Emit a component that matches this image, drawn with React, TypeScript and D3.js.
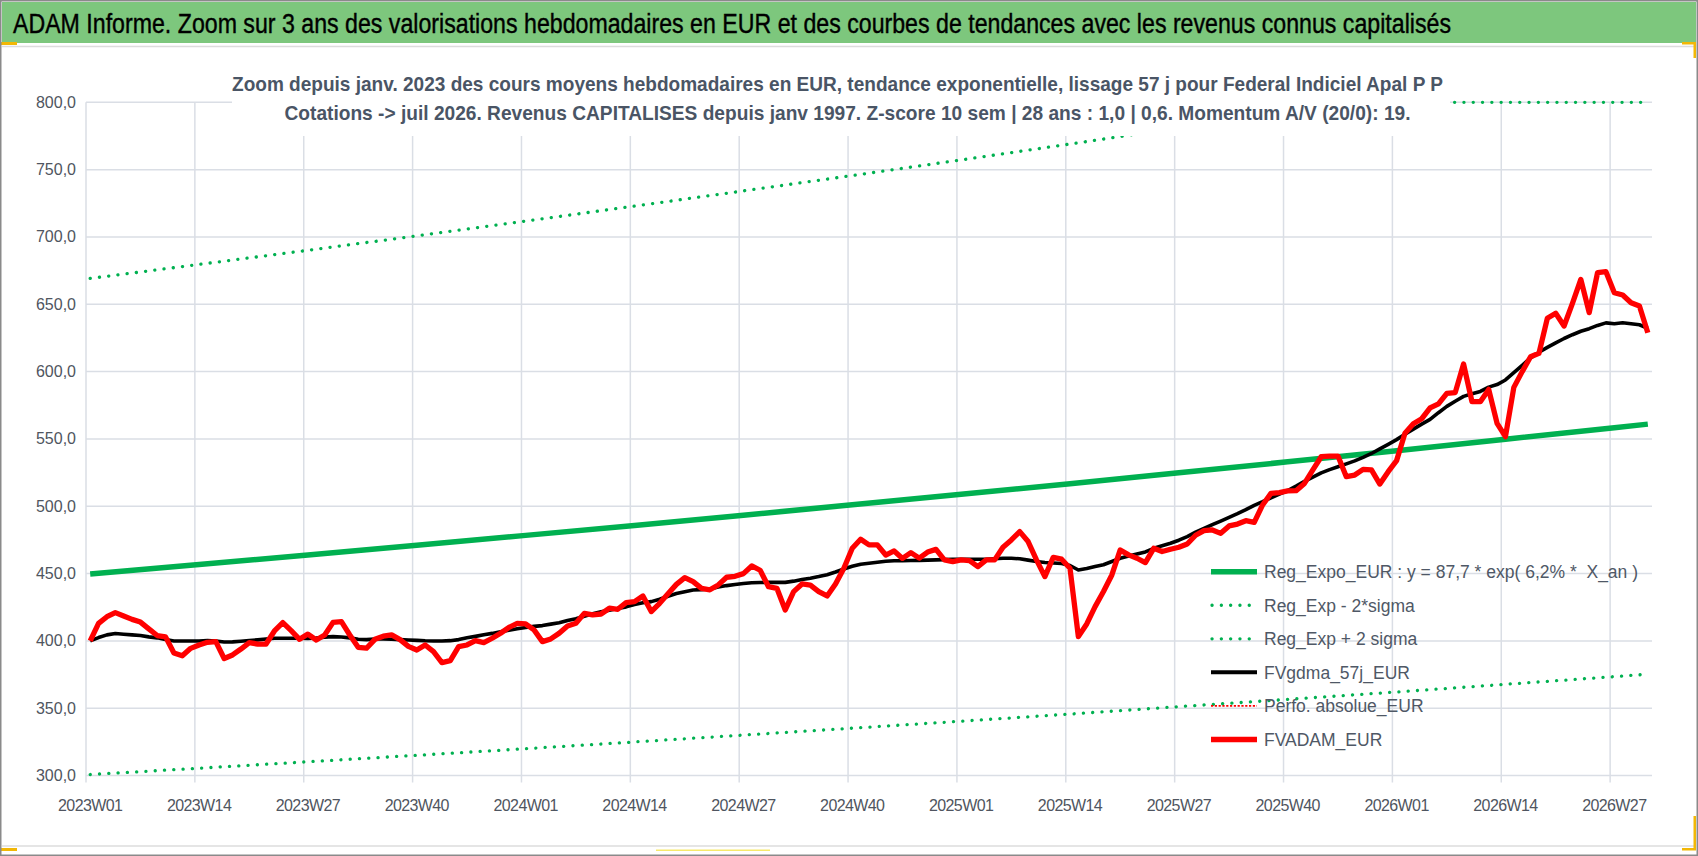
import { useEffect, useRef } from 'react';
import * as d3 from 'd3';

const WIDTH = 1698;
const HEIGHT = 856;

// weekly categories 2023W01 .. 2026W31 (2023-2025 have 52 ISO weeks)
const LAST_YEAR = 2026;
const LAST_WEEK = 31;
const WEEKS: string[] = [];
for (let yr = 2023; yr <= LAST_YEAR; yr++) {
  const n = yr === LAST_YEAR ? LAST_WEEK : 52;
  for (let w = 1; w <= n; w++) WEEKS.push(`${yr}W${String(w).padStart(2, '0')}`);
}

const Y_TICKS = [300, 350, 400, 450, 500, 550, 600, 650, 700, 750, 800];

// FVADAM_EUR, weekly (red)
const FVADAM = [
  400, 413, 418, 421, 418.5, 416, 414, 409, 404, 403, 391, 389, 394.5, 397, 399, 399.5, 387, 389.6, 394, 398.7,
  397.7, 397.7, 407.4, 413.6, 407.6, 401.2, 405.1, 400.7, 404.4, 413.8, 414.3, 404.4, 395.3, 394.6, 401.2, 403.5, 404.5, 401, 396, 393.3,
  397, 392.1, 383.9, 385.4, 395.8, 397, 400.2, 398.8, 402, 405.7, 410, 413.1, 412.6, 408.2, 399.5, 401.5, 405.7, 411.1, 413.1, 420.5,
  419.3, 420, 424.3, 423.5, 428.5, 429.2, 433.4, 421.8, 427.9, 435, 442, 447, 444, 439, 438, 441.6, 447.3, 448, 450, 455.7,
  452.5, 440.3, 439.1, 423, 436.6, 442.3, 441.5, 436.6, 433.4, 442.3, 454, 468.8, 475.5, 471.3, 471.3, 463.8, 466.8, 461.3, 465.6, 461.5,
  466, 468, 460.2, 458.9, 460.2, 459.7, 455.2, 460.2, 460.2, 469.6, 475, 481.2, 473.8, 460.2, 447.8, 462.1, 460.7, 454, 403.2, 412.6,
  425.5, 436.7, 449, 467.6, 463.9, 461.4, 458.2, 468.8, 466.4, 468.1, 469.6, 472, 478.5, 481.9, 482.4, 479.9, 485.4, 486.8, 489.3, 488.1,
  501, 509.6, 510.1, 511.4, 511.6, 517, 527, 536.8, 537.3, 537.3, 522, 523.2, 527.4, 527, 516.5, 525.7, 533.9, 554.2, 561.3, 565,
  573, 576, 583.9, 584.4, 605.6, 577.7, 577.7, 586.8, 561.6, 551.7, 588.3, 600, 611.1, 613.6, 639.6, 643.3, 633.9, 650.7, 668.5, 643.8,
  673.5, 674.2, 658.6, 656.9, 651.2, 648.7, 628.9,
];

// FVgdma_57j_EUR, weekly (black)
const FVGDMA = [
  400, 402.5, 404.5, 405.5, 405, 404.5, 404, 403, 402.3, 401, 400, 400, 400, 400, 400.2, 400, 399.2, 399.3, 399.8, 400.3,
  400.8, 401.4, 402, 402, 402, 402, 401.8, 402.2, 402.8, 403.2, 402.9, 402.3, 401.2, 401, 401.5, 401.4, 401.2, 401, 400.7, 400.4,
  400.1, 400, 400, 400.2, 401, 402.3, 403.4, 404.6, 405.6, 406.9, 408, 409.1, 410, 410.8, 411.4, 412.5, 413.5, 415.2, 416.5, 418.4,
  420.2, 421.7, 422.8, 424.1, 425.3, 427, 428.3, 429.2, 431, 433.2, 435.2, 436.6, 437.8, 438.1, 438.6, 440, 441.1, 441.9, 442.6, 443.2,
  443.4, 443.5, 443.5, 443.5, 444.4, 445.6, 446.6, 447.8, 449.2, 451.2, 453.4, 455.4, 457, 457.7, 458.5, 459.2, 459.6, 459.6, 459.7, 459.8,
  460, 460.2, 460.4, 460.7, 460.7, 460.7, 460.7, 460.7, 461, 461.4, 461.4, 461, 460, 459, 458.2, 457.9, 457.5, 456, 452.7, 453.8,
  455.3, 456.6, 459, 461.4, 463, 464.6, 466.1, 468.8, 470.7, 472.5, 474.8, 477.5, 480.8, 483.5, 486.3, 489, 491.8, 494.5, 497.5, 500.7,
  503.4, 506.3, 509, 511.7, 515, 518.5, 521.6, 524.8, 527.2, 529.3, 531.5, 533.7, 536.3, 539.2, 542.6, 546, 549.5, 553.5, 557.3, 561,
  564.5, 569.5, 574.2, 578, 581.6, 583.5, 585.3, 588.5, 590.4, 593.8, 599.2, 604.7, 610.2, 614.4, 618, 621.4, 624.6, 627.4, 630, 631.9,
  634.3, 636.2, 635.5, 636.3, 635.6, 634.8, 632.1,
];

// trend curves, read at the labelled weeks and at the last week
const TREND_WEEKS = [
  '2023W01', '2023W14', '2023W27', '2023W40', '2024W01', '2024W14', '2024W27', '2024W40',
  '2025W01', '2025W14', '2025W27', '2025W40', '2026W01', '2026W14', '2026W27', '2026W31',
];
const REG_EXPO = [449.7, 456.7, 463.8, 471.0, 478.4, 485.8, 493.4, 501.1, 508.9, 516.8, 524.9, 533.0, 541.3, 549.8, 558.3, 561.0];
const REG_LOW = [300.8, 305.5, 310.3, 315.1, 320.0, 325.0, 330.1, 335.2, 340.4, 345.7, 351.2, 356.6, 362.1, 367.8, 373.5, 375.3];
const REG_HIGH = [669.2, 679.6, 690.1, 700.8, 711.8, 722.9, 734.2, 745.6, 757.2, 769.0, 781.1, 793.1, 805.4, 818.1, 830.8, 834.8];

const LEGEND = [
  { label: 'Reg_Expo_EUR : y = 87,7 * exp( 6,2% *  X_an )', color: '#00b050', width: 5.5, dash: '' },
  { label: 'Reg_Exp - 2*sigma', color: '#00b050', width: 3.3, dash: 'dot' },
  { label: 'Reg_Exp + 2 sigma', color: '#00b050', width: 3.3, dash: 'dot' },
  { label: 'FVgdma_57j_EUR', color: '#000000', width: 4, dash: '' },
  { label: 'Perfo. absolue_EUR', color: '#ff0000', width: 1.8, dash: 'small' },
  { label: 'FVADAM_EUR', color: '#ff0000', width: 5.5, dash: '' },
];

const TITLE = 'ADAM Informe. Zoom sur 3 ans des valorisations hebdomadaires en EUR et des courbes de tendances avec les revenus connus capitalisés';
const SUB1 = 'Zoom depuis janv. 2023 des cours moyens hebdomadaires en EUR, tendance exponentielle, lissage 57 j pour Federal Indiciel Apal P P';
const SUB2 = 'Cotations -> juil 2026. Revenus CAPITALISES depuis janv 1997. Z-score 10 sem | 28 ans : 1,0 | 0,6. Momentum A/V (20/0): 19.';

const NARROW = "'Liberation Sans Narrow', 'Liberation Sans', Arial, sans-serif";
const SANS = "'Liberation Sans', Arial, sans-serif";

export default function App() {
  const svgRef = useRef<SVGSVGElement>(null);

  useEffect(() => {
    if (!svgRef.current) return;
    document.body.style.margin = '0';

    const svg = d3.select(svgRef.current);
    svg.selectAll('*').remove();

    const left = 86;
    const right = 1652;
    const top = 102.3;
    const bottom = 775.6;

    const x = d3.scaleBand<string>().domain(WEEKS).range([left, right]).padding(0);
    const cx = (w: string) => (x(w) ?? 0) + x.bandwidth() / 2;
    const y = d3.scaleLinear().domain([300, 800]).range([bottom, top]);
    const fmt = d3.formatLocale({ decimal: ',', thousands: ' ', grouping: [3], currency: ['', '€'] }).format('.1f');

    svg.append('rect').attr('width', WIDTH).attr('height', HEIGHT).attr('fill', '#ffffff');

    // Grid
    const grid = svg.append('g').attr('stroke', '#dadee5').attr('stroke-width', 1.5);
    Y_TICKS.forEach(v => {
      grid.append('line').attr('x1', left).attr('x2', right).attr('y1', y(v)).attr('y2', y(v));
    });
    WEEKS.forEach((w, i) => {
      if (i % 13 !== 0) return;
      grid.append('line').attr('x1', x(w)!).attr('x2', x(w)!).attr('y1', top).attr('y2', bottom + 7);
    });

    // Axis labels
    svg.append('g')
      .selectAll('text')
      .data(Y_TICKS)
      .join('text')
      .attr('x', 76)
      .attr('y', d => y(d) + 5.5)
      .attr('text-anchor', 'end')
      .attr('font-family', SANS)
      .attr('font-size', 16)
      .attr('fill', '#4f5560')
      .text(d => fmt(d));

    svg.append('g')
      .selectAll('text')
      .data(WEEKS.filter((_, i) => i % 13 === 0))
      .join('text')
      .attr('x', d => cx(d))
      .attr('y', 811)
      .attr('text-anchor', 'middle')
      .attr('font-family', SANS)
      .attr('font-size', 16)
      .attr('letter-spacing', -0.6)
      .attr('fill', '#4f5560')
      .text(d => d);

    // Series
    const weekly = d3.line<number>().x((_, i) => cx(WEEKS[i])).y(d => y(d));
    const trend = d3.line<number>().x((_, i) => cx(TREND_WEEKS[i])).y(d => y(Math.min(d, 800)));

    svg.append('path').datum(REG_EXPO).attr('d', trend)
      .attr('fill', 'none').attr('stroke', '#00b050').attr('stroke-width', 5.5).attr('stroke-linejoin', 'round');
    [REG_LOW, REG_HIGH].forEach(s => {
      svg.append('path').datum(s).attr('d', trend)
        .attr('fill', 'none').attr('stroke', '#00b050').attr('stroke-width', 3.3)
        .attr('stroke-linecap', 'round').attr('stroke-dasharray', '0.1 9.2');
    });
    svg.append('path').datum(FVGDMA).attr('d', weekly)
      .attr('fill', 'none').attr('stroke', '#000000').attr('stroke-width', 3.6).attr('stroke-linejoin', 'round');
    svg.append('path').datum(FVADAM).attr('d', weekly)
      .attr('fill', 'none').attr('stroke', '#ff0000').attr('stroke-width', 5.3).attr('stroke-linejoin', 'round');

    // Legend (transparent, over the plot)
    const lg = svg.append('g');
    LEGEND.forEach((d, i) => {
      const ly = 571.7 + i * 33.55;
      const ln = lg.append('line')
        .attr('x1', 1211).attr('x2', 1257).attr('y1', ly).attr('y2', ly)
        .attr('stroke', d.color).attr('stroke-width', d.width);
      if (d.dash === 'dot') ln.attr('stroke-linecap', 'round').attr('stroke-dasharray', '0.1 9.2').attr('x1', 1212);
      if (d.dash === 'small') ln.attr('stroke-dasharray', '2.2 1.6');
      lg.append('text')
        .attr('x', 1264)
        .attr('y', ly + 6.3)
        .attr('font-family', SANS)
        .attr('font-size', 17.5)
        .attr('fill', '#4f5866')
        .style('white-space', 'pre')
        .text(d.label);
    });

    // Chart title (its box hides the grid under it)
    svg.append('rect').attr('x', 232).attr('y', 62).attr('width', 1218).attr('height', 74).attr('fill', '#ffffff');
    svg.append('text')
      .attr('x', 232).attr('y', 91)
      .attr('font-family', NARROW).attr('font-size', 21).attr('font-weight', 700)
      .attr('fill', '#4a5565')
      .attr('textLength', 1211).attr('lengthAdjust', 'spacingAndGlyphs')
      .text(SUB1);
    svg.append('text')
      .attr('x', 284.5).attr('y', 120)
      .attr('font-family', NARROW).attr('font-size', 21).attr('font-weight', 700)
      .attr('fill', '#4a5565')
      .attr('textLength', 1126).attr('lengthAdjust', 'spacingAndGlyphs')
      .text(SUB2);

    // Banner
    svg.append('rect').attr('x', 2).attr('y', 2).attr('width', WIDTH - 4).attr('height', 41).attr('fill', '#7dc77d');
    svg.append('text')
      .attr('x', 13).attr('y', 33)
      .attr('font-family', NARROW).attr('font-size', 27)
      .attr('fill', '#000000').attr('stroke', '#000000').attr('stroke-width', 0.4)
      .attr('textLength', 1438).attr('lengthAdjust', 'spacingAndGlyphs')
      .text(TITLE);
    svg.append('line').attr('x1', 2).attr('x2', WIDTH - 3).attr('y1', 46.5).attr('y2', 46.5)
      .attr('stroke', '#dcdcdc').attr('stroke-width', 1.5);
    svg.append('line').attr('x1', 2).attr('x2', WIDTH - 3).attr('y1', 846).attr('y2', 846)
      .attr('stroke', '#dcdcdc').attr('stroke-width', 1.5);

    // Selection handles
    const handles = svg.append('g').attr('fill', '#f2b705');
    handles.append('rect').attr('x', 0).attr('y', 42).attr('width', 17).attr('height', 3);
    handles.append('rect').attr('x', 1682).attr('y', 42).attr('width', 14).attr('height', 2.5);
    handles.append('rect').attr('x', 1693.5).attr('y', 42).attr('width', 2.5).attr('height', 16);
    handles.append('rect').attr('x', 0).attr('y', 848).attr('width', 17).attr('height', 3);
    handles.append('rect').attr('x', 1693.5).attr('y', 816).attr('width', 2.5).attr('height', 34);
    handles.append('rect').attr('x', 1682).attr('y', 848).attr('width', 14).attr('height', 2.5);
    svg.append('rect').attr('x', 656).attr('y', 849.5).attr('width', 114).attr('height', 1.5).attr('fill', '#f7e96b');

    // Frame
    svg.append('rect').attr('x', 0.75).attr('y', 0.75).attr('width', WIDTH - 1.5).attr('height', HEIGHT - 1.5)
      .attr('fill', 'none').attr('stroke', '#8a8a8a').attr('stroke-width', 1.5);
  }, []);

  return <svg ref={svgRef} width={WIDTH} height={HEIGHT} style={{ display: 'block' }} />;
}
